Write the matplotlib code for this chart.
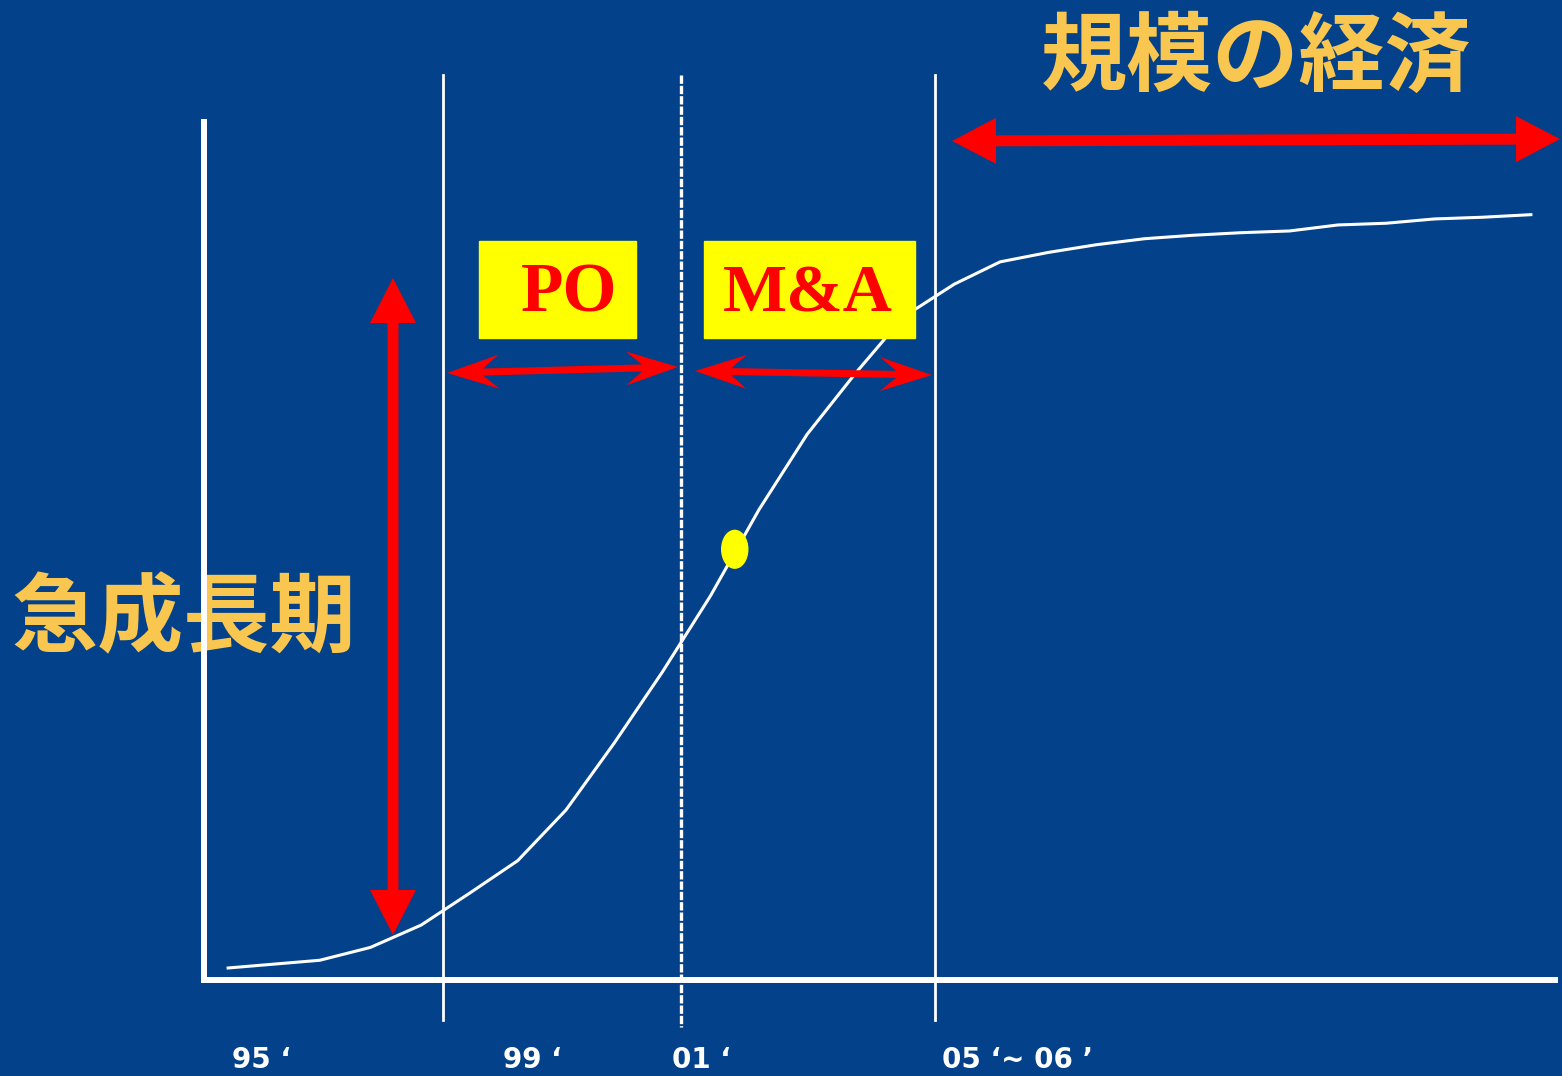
import numpy as np
import matplotlib
matplotlib.use("Agg")
import matplotlib.pyplot as plt
from matplotlib.patches import Polygon, Rectangle, Ellipse

# growth curve (period index vs. growth index 0-100)
period = [0.5, 2.4, 3.45, 4.5, 5.5, 6.5, 7.5, 8.5, 9.5, 10.5, 11.5, 12.5, 13.5,
          14.5, 15.55, 16.5, 17.5, 18.5, 19.5, 20.5, 21.5, 22.5, 23.5, 24.5,
          25.5, 26.5, 27.5]
growth = [1.4, 2.3, 3.8, 6.4, 10.1, 13.9, 19.8, 27.6, 35.9, 44.8, 54.8, 63.6,
          70.7, 77.3, 81.1, 83.7, 84.8, 85.7, 86.4, 86.8, 87.1, 87.3, 88.0,
          88.2, 88.7, 88.9, 89.2]
highlight = (11.0, 50.2)

year_labels = ["95 \u2018", "99 \u2018", "01 \u2018", "05 \u2018~ 06 \u2019"]
year_x = [232, 503, 672, 942]

title_top = "規模の経済"
title_left = "急成長期"
box_labels = ["PO", "M&A"]

BG = "#03418A"
GOLD = "#F9C74F"
RED = "#FF0000"
W, H = 1562, 1076

fig = plt.figure(figsize=(W / 100, H / 100), dpi=100, facecolor=BG)

# data axes: frame + curve
ax = fig.add_axes([204 / W, (H - 980) / H, (1555 - 204) / W, (980 - 122) / H],
                  facecolor="none", zorder=2)
ax.plot(period, growth, color="white", lw=2.2, solid_joinstyle="round")
ax.add_patch(Ellipse(highlight, 0.54, 4.4, color="#FFFF00", zorder=5))
ax.set_xlim(0, 28)
ax.set_ylim(0, 100)
for s in ["top", "right"]:
    ax.spines[s].set_visible(False)
for s in ["left", "bottom"]:
    ax.spines[s].set_color("white")
    ax.spines[s].set_linewidth(4.3)
ax.set_xticks([])
ax.set_yticks([])

# overlay in pixel coordinates for annotations
ov = fig.add_axes([0, 0, 1, 1], facecolor="none", zorder=3)
ov.set_xlim(0, W)
ov.set_ylim(H, 0)
ov.axis("off")


def double_arrow(x0, y0, x1, y1, shaft, head_w, head_l, notch=0.0):
    p0 = np.array([x0, y0], float)
    p1 = np.array([x1, y1], float)
    u = (p1 - p0) / np.linalg.norm(p1 - p0)
    n = np.array([-u[1], u[0]])
    L = np.linalg.norm(p1 - p0)

    def pt(d, off):
        return p0 + u * d + n * off

    pts = [pt(0, 0), pt(head_l, head_w / 2), pt(head_l - notch, shaft / 2),
           pt(L - head_l + notch, shaft / 2), pt(L - head_l, head_w / 2),
           pt(L, 0), pt(L - head_l, -head_w / 2), pt(L - head_l + notch, -shaft / 2),
           pt(head_l - notch, -shaft / 2), pt(head_l, -head_w / 2)]
    ov.add_patch(Polygon(pts, closed=True, color=RED, lw=0, zorder=6))


# vertical separators
ov.plot([443, 443], [75, 1020], color="white", lw=2.0)
ov.plot([681, 681], [75, 1027], color="white", lw=2.4, linestyle=(0, (2.5, 0.6)))
ov.plot([935, 935], [75, 1020], color="white", lw=2.0)

# arrows
double_arrow(393, 278, 393, 935, 11, 46, 45)
double_arrow(952, 141, 1560, 139, 11, 46, 44)
double_arrow(447, 373, 678, 367, 7, 34, 52, 16)
double_arrow(695, 371, 932, 375, 7, 34, 52, 16)

# yellow boxes
ov.add_patch(Rectangle((479, 241), 157, 97, color="#FFFF00", zorder=4))
ov.add_patch(Rectangle((704, 241), 211, 97, color="#FFFF00", zorder=4))
ov.text(569, 295, box_labels[0], color=RED, fontsize=50, fontweight="bold",
        family="Liberation Serif", ha="center", va="center", zorder=7)
ov.text(808, 295, box_labels[1], color=RED, fontsize=49, fontweight="bold",
        family="Liberation Serif", ha="center", va="center", zorder=7)

# titles
ov.text(1256, 59, title_top, color=GOLD, fontsize=62, fontweight="bold",
        family=["Noto Sans CJK JP", "DejaVu Sans"], ha="center", va="center")
fig.text(184 / W, 1 - 620 / H, title_left, color=GOLD, fontsize=62, fontweight="bold",
         family=["Noto Sans CJK JP", "DejaVu Sans"], ha="center", va="center", zorder=1)

# year labels
for lab, x in zip(year_labels, year_x):
    ov.text(x, 1060, lab, color="white", fontsize=20, fontweight="bold",
            ha="left", va="center")

fig.savefig("out.png", dpi=100, facecolor=BG)
